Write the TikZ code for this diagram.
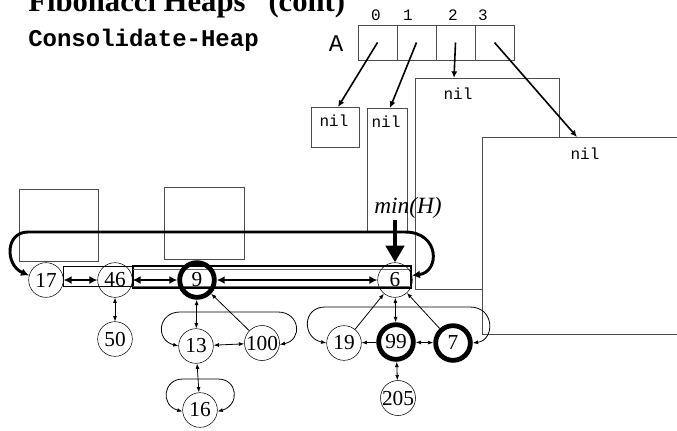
\documentclass[tikz,border=0pt]{standalone}
\usepackage{fontspec}
\setmainfont{Liberation Serif}
\setmonofont{Liberation Mono}
\usetikzlibrary{arrows.meta,positioning}

\tikzset{
  keynode/.style={circle,draw,inner sep=0pt,minimum size=26pt,font=\fontsize{16}{17}\selectfont},
  hotnode/.style={keynode,line width=3.6pt},
  boxline/.style={draw=black!70,line width=0.7pt},
  slot/.style={draw=black!70,line width=0.7pt,minimum width=29.25pt,minimum height=26.25pt,inner sep=0pt,outer sep=0pt},
  idx/.style={font=\ttfamily\fontsize{12}{13}\selectfont,inner sep=0pt},
  niltxt/.style={font=\ttfamily\fontsize{12}{13}\selectfont,inner sep=0pt},
  sib/.style={{Latex[length=6pt,width=6pt]}-{Latex[length=6pt,width=6pt]},line width=2pt},
  lnk/.style={{Latex[length=4pt,width=3pt]}-{Latex[length=4pt,width=3pt]},line width=0.6pt},
  parentarr/.style={-{Latex[length=4pt,width=3pt]},line width=0.6pt},
  ptr/.style={-{Latex[length=5pt,width=4.5pt]},line width=1.2pt},
  minarr/.style={-{Triangle[length=12.5pt,width=13.5pt]},line width=3.6pt},
}

\begin{document}
\begin{tikzpicture}[x=0.75pt,y=-0.75pt]
  \useasboundingbox (0,0) rectangle (677,430);
  % headings
  \node[anchor=base west,inner sep=0pt,font=\bfseries\fontsize{23}{25}\selectfont] (title) at (28,11) {Fibonacci Heaps" (cont)};
  \node[anchor=base west,inner sep=0pt,font=\ttfamily\bfseries\fontsize{18}{20}\selectfont] (proc) at (28,46) {Consolidate-Heap};
  % empty boxes behind the root list
  \draw[boxline] (19,189) rectangle (98,261);
  \draw[boxline] (164,187) rectangle (244,259);
  % nil boxes of the array
  \draw[boxline] (311,107) rectangle (359,147);
  \draw[boxline] (367,108) rectangle (407,232);
  \draw[boxline] (415,78) rectangle (559,289);
  \draw[boxline,fill=white] (482,137) rectangle (700,334);
  \node[niltxt] (nilA) at (334,121) {nil};
  \node[niltxt] (nilB) at (386,122) {nil};
  \node[niltxt] (nilC) at (458,94) {nil};
  \node[niltxt] (nilD) at (585,154) {nil};
  % frames round the root links
  \draw[line width=0.6pt] (63,266) rectangle (133,286);
  \draw[line width=0.9pt] (133,266) rectangle (411,288);
  \draw[black!60,line width=0.5pt] (133,269) -- (411,269) (133,286) -- (411,286);
  % array A
  \node[anchor=base,inner sep=0pt,font=\ttfamily\fontsize{18}{20}\selectfont] (lblA) at (336,51) {A};
  \foreach \i in {0,...,3}
    \node[slot] (c\i) at ({377.5+39*\i},42.5) {};
  \foreach \i/\x in {0/376,1/408,2/453,3/483}
    \node[idx] (i\i) at (\x,15) {\i};
  \coordinate (ta) at (338,107);
  \coordinate (tb) at (390,108);
  \coordinate (tc) at (454,78);
  \coordinate (td) at (577,137);
  \draw[ptr] (c0.center) -- (ta);
  \draw[ptr] (c1.center) -- (tb);
  \draw[ptr] (c2.center) -- (tc);
  \draw[ptr] (c3.center) -- (td);
  % root list
  \node[keynode] (n17) at (46,280) {17};
  \node[keynode] (n46) at (115,280) {46};
  \node[hotnode] (n9) at (197,280) {9};
  \node[keynode] (n6) at (395,280) {6};
  % children
  \node[keynode] (n50) at (115,339) {50};
  \node[keynode] (n13) at (196,346) {13};
  \node[keynode] (n100) at (262,343) {100};
  \node[keynode] (n16) at (200,410) {16};
  \node[keynode] (n19) at (344,343) {19};
  \node[hotnode] (n99) at (396,342) {99};
  \node[hotnode] (n7) at (453,343) {7};
  \node[keynode] (n205) at (398,398) {205};
  % min pointer
  \node[anchor=base,inner sep=1pt,font=\itshape\fontsize{17.5}{20}\selectfont] (minlbl) at (408,213) {min(H)};
  \draw[minarr] (minlbl.south -| n6) -- (n6);
  % root links
  \draw[sib] (n17) -- (n46);
  \draw[sib] (n46) -- (n9);
  \draw[sib] (n9) -- (n6);
  \draw[sib,line width=2.2pt] (n17.165) .. controls (5,265) and (5,232) .. (28,232)
    -- (405,232) .. controls (440,232) and (440,272) .. (n6.15);
  % child links
  \draw[lnk] (n46) -- (n50);
  \draw[lnk] (n9) -- (n13);
  \draw[parentarr] (n100) -- (n9);
  \draw[lnk] (n13) -- (n100);
  \draw[lnk] (n13.west) .. controls (155,340) and (158,312) .. (180,312)
    -- (278,312) .. controls (300,312) and (303,340) .. (n100.-5);
  \draw[lnk] (n13) -- (n16);
  \draw[lnk] (n16.185) .. controls (160,405) and (163,379) .. (183,379)
    -- (218,379) .. controls (238,379) and (240,405) .. (n16.-5);
  \draw[parentarr] (n19) -- (n6);
  \draw[lnk] (n99) -- (n6);
  \draw[parentarr] (n7) -- (n6);
  \draw[parentarr] (n99) -- (n19);
  \draw[lnk] (n99) -- (n7);
  \draw[lnk] (n99) -- (n205);
  \draw[lnk] (n19.west) .. controls (302,338) and (302,307) .. (325,307)
    -- (470,307) .. controls (495,307) and (495,340) .. (n7.east);
\end{tikzpicture}
\end{document}
